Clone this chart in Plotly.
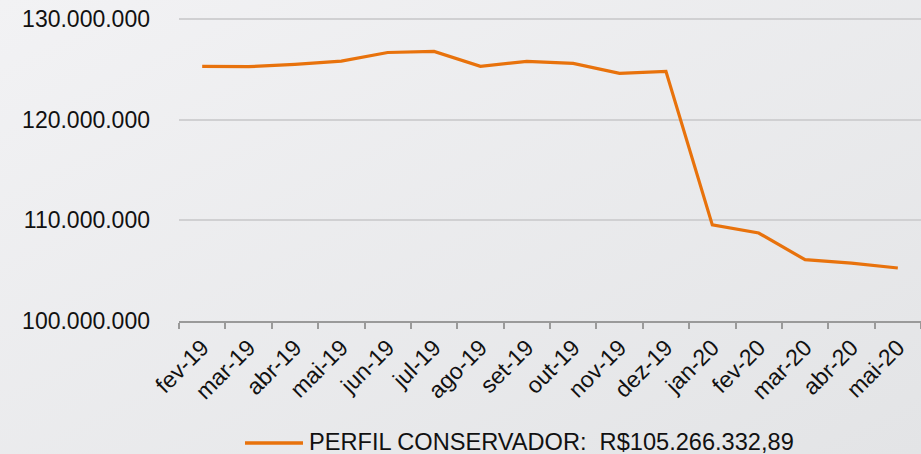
import base64
import plotly.graph_objects as go

months = ["fev-19", "mar-19", "abr-19", "mai-19", "jun-19", "jul-19", "ago-19", "set-19",
          "out-19", "nov-19", "dez-19", "jan-20", "fev-20", "mar-20", "abr-20", "mai-20"]
values = [125_300_000, 125_270_000, 125_500_000, 125_820_000, 126_680_000, 126_780_000,
          125_300_000, 125_800_000, 125_600_000, 124_600_000, 124_800_000, 109_550_000,
          108_740_000, 106_090_000, 105_750_000, 105_266_332.89]
y_ticks = [100_000_000, 110_000_000, 120_000_000, 130_000_000]
y_tick_labels = ["100.000.000", "110.000.000", "120.000.000", "130.000.000"]
series_name = "PERFIL CONSERVADOR:  R$105.266.332,89"

W, H = 921, 454
ML, MR, MT, MB = 179, 0, 9, 133
LINE_COLOR = "#E8720C"
FONT = "Liberation Sans, Arial, sans-serif"

svg = (f'<svg xmlns="http://www.w3.org/2000/svg" width="{W}" height="{H}">'
       '<defs><linearGradient id="g" x1="0" y1="0" x2="1" y2="1">'
       '<stop offset="0" stop-color="#f2f2f4"/><stop offset="1" stop-color="#e3e4e6"/>'
       '</linearGradient></defs>'
       f'<rect width="{W}" height="{H}" fill="url(#g)"/></svg>')
bg_src = "data:image/svg+xml;base64," + base64.b64encode(svg.encode()).decode()

pw = W - ML - MR
ph = H - MT - MB
leg_y = -(442 - MT - ph) / ph

fig = go.Figure()
fig.add_trace(go.Scatter(
    x=months, y=values, mode="lines", name=series_name,
    line=dict(color=LINE_COLOR, width=3.2), showlegend=False,
))

fig.update_layout(
    width=W, height=H,
    margin=dict(l=ML, r=MR, t=MT, b=MB, autoexpand=False),
    paper_bgcolor="#ebebed", plot_bgcolor="rgba(0,0,0,0)",
    font=dict(family=FONT, size=22, color="#111111"),
    images=[dict(source=bg_src, xref="paper", yref="paper",
                 x=-ML / pw, y=1 + MT / ph, sizex=W / pw, sizey=H / ph,
                 sizing="stretch", layer="below", xanchor="left", yanchor="top")],
    xaxis=dict(
        type="category", range=[-0.5, len(months) - 0.5], automargin=False,
        showgrid=False, showline=True, linecolor="#9a9a9a", linewidth=2,
        ticks="outside", tickson="boundaries", ticklen=6, tickwidth=2, tickcolor="#9a9a9a",
        tickangle=-45, tickfont=dict(size=23, color="#111111"), ticklabelstandoff=2,
    ),
    yaxis=dict(
        range=[100_000_000, 131_000_000], automargin=False,
        tickvals=y_ticks, ticktext=y_tick_labels,
        showgrid=True, gridcolor="#d0d0d2", gridwidth=2,
        showline=False, zeroline=False, ticks="",
        tickfont=dict(size=23, color="#111111"), ticklabelstandoff=28,
    ),
    shapes=[dict(type="line", xref="paper", yref="paper",
                 x0=(245 - ML) / pw, x1=(303 - ML) / pw,
                 y0=-(443 - MT - ph) / ph, y1=-(443 - MT - ph) / ph,
                 line=dict(color=LINE_COLOR, width=3.5))],
    annotations=[dict(text=series_name, xref="paper", yref="paper",
                      x=(307 - ML) / pw, y=leg_y,
                      xanchor="left", yanchor="middle", showarrow=False,
                      font=dict(size=23.6, color="#111111"))],
)

fig.write_html("out.html", config={"displayModeBar": False},
               post_script="document.body.style.margin='0';document.body.style.overflow='hidden';")
